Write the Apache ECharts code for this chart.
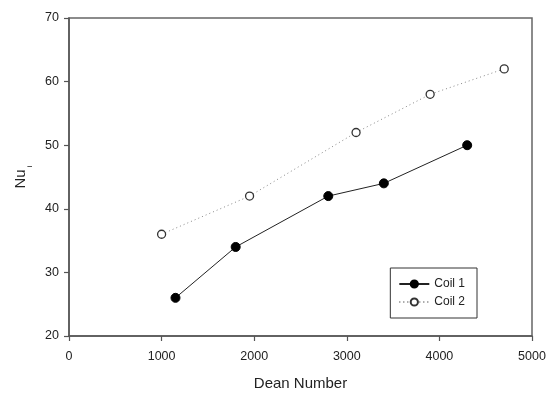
<!DOCTYPE html>
<html>
<head>
<meta charset="utf-8">
<script src="https://cdn.jsdelivr.net/npm/echarts@6/dist/echarts.min.js"></script>
<style>
html,body{margin:0;padding:0;background:#fff;}
#c{width:549px;height:396px;}
</style>
</head>
<body>
<div id="c"></div>
<script>
var coil1X = [1150, 1800, 2800, 3400, 4300];
var coil1Y = [26, 34, 42, 44, 50];
var coil2X = [1000, 1950, 3100, 3900, 4700];
var coil2Y = [36, 42, 52, 58, 62];
var seriesNames = ['Coil 1', 'Coil 2'];

function pairs(xs, ys) { return xs.map(function (x, i) { return [x, ys[i]]; }); }

var font = 'Liberation Sans, Arial, sans-serif';
var chart = echarts.init(document.getElementById('c'));
chart.setOption({
  animation: false,
  backgroundColor: '#fff',
  textStyle: { fontFamily: font },
  grid: { left: 69, right: 17, top: 18, bottom: 53, show: true, borderColor: '#666', borderWidth: 1.5 },
  legend: {
    right: 72, top: 268,
    orient: 'vertical',
    itemWidth: 30, itemHeight: 9, itemGap: 6,
    padding: [10, 12, 10, 8],
    borderColor: '#333', borderWidth: 1,
    textStyle: { fontSize: 12, color: '#222', fontFamily: font },
    data: seriesNames
  },
  xAxis: {
    type: 'value', min: 0, max: 5000, interval: 1000,
    name: 'Dean Number', nameLocation: 'middle', nameGap: 40,
    nameTextStyle: { fontSize: 15, color: '#222', fontFamily: font },
    axisLine: { show: true, onZero: false, lineStyle: { color: '#555', width: 1.5 } },
    axisTick: { show: true, inside: false, length: 5, lineStyle: { color: '#555', width: 1.2 } },
    axisLabel: { fontSize: 12.5, color: '#222', margin: 14, fontFamily: font, formatter: function (v) { return String(v); } },
    splitLine: { show: false }
  },
  yAxis: {
    type: 'value', min: 20, max: 70, interval: 10,
    name: '{a|Nu}{b| i}', nameLocation: 'middle', nameGap: 40, nameRotate: 90,
    nameTextStyle: {
      color: '#222', fontFamily: font,
      rich: {
        a: { fontSize: 15, color: '#222', fontFamily: font, verticalAlign: 'bottom' },
        b: { fontSize: 8, color: '#222', fontFamily: font, verticalAlign: 'bottom', padding: [0, 0, -6, 0] }
      }
    },
    axisLine: { show: true, onZero: false, lineStyle: { color: '#555', width: 1.5 } },
    axisTick: { show: true, inside: false, length: 5, lineStyle: { color: '#555', width: 1.2 } },
    axisLabel: { fontSize: 12.5, color: '#222', margin: 10, fontFamily: font },
    splitLine: { show: false }
  },
  series: [
    {
      name: seriesNames[0], type: 'line', data: pairs(coil1X, coil1Y),
      symbol: 'circle', symbolSize: 9,
      itemStyle: { color: '#000', borderColor: '#000', borderWidth: 1 },
      lineStyle: { color: '#222', width: 1, type: 'solid' }
    },
    {
      name: seriesNames[1], type: 'line', data: pairs(coil2X, coil2Y),
      symbol: 'circle', symbolSize: 8,
      itemStyle: { color: '#fff', borderColor: '#333', borderWidth: 1.3 },
      lineStyle: { color: '#888', width: 1, type: [1, 3] }
    }
  ]
});
</script>
</body>
</html>
